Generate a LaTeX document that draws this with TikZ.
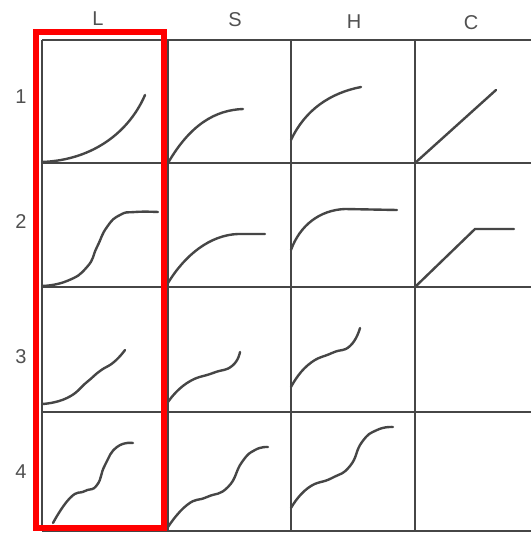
\documentclass[tikz,border=0pt]{standalone}
\usepackage{fontspec}
\setmainfont{Liberation Sans}
\usepackage{tikz}
\usetikzlibrary{positioning}

\definecolor{inkgray}{HTML}{464646}
\definecolor{labelgray}{HTML}{505050}

\begin{document}
\begin{tikzpicture}[x=1pt, y=-1pt,
  every node/.style={font=\fontsize{20}{20}\selectfont, text=labelgray},
  gridline/.style={draw=inkgray, line width=2.2pt},
  curve/.style={draw=inkgray, line width=2.4pt, line cap=round},
  frame/.style={draw=red, line width=6pt}]
  \useasboundingbox[fill=white] (0,0) rectangle (531,534);
  % column and row labels
  \foreach \c/\x/\y in {L/98/19, S/235/20, H/354/22, C/471/23}
    \node (col\c) at (\x,\y) {\c};
  \foreach \r/\y in {1/97, 2/222, 3/357, 4/472}
    \node (row\r) at (21,\y) {\r};
  % grid
  \foreach \x in {42,168,291,415}
    \draw[gridline] (\x,40) -- (\x,531);
  \foreach \y in {40,163,287,412,531}
    \draw[gridline] (42,\y) -- (531,\y);
  % row 1
  \draw[curve] (42,162) .. controls (95,160) and (130,130) .. (145,95);
  \draw[curve] (168,163) .. controls (190,125) and (215,110) .. (243,109);
  \draw[curve] (291,140) .. controls (305,110) and (330,93) .. (361,87);
  \draw[curve] (415,163) -- (496,90);
  % row 2
  \draw[curve] plot[smooth, tension=0.9] coordinates {(42,286) (67,281) (87,267) (97,247) (107,227) (120,215) (135,212) (158,212)};
  \draw[curve] (168,283) .. controls (185,255) and (210,235) .. (238,234) -- (265,234);
  \draw[curve] (291,250) .. controls (300,225) and (320,210) .. (345,209) -- (397,210);
  \draw[curve] (415,287) -- (475,229) -- (514,229);
  % row 3
  \draw[curve] plot[smooth, tension=0.9] coordinates {(42,404) (67,398) (87,382) (100,371) (114,362) (125,350)};
  \draw[curve] plot[smooth, tension=0.9] coordinates {(168,402) (187,383) (213,373) (232,366) (240,352)};
  \draw[curve] plot[smooth, tension=0.9] coordinates {(291,387) (308,365) (332,353) (350,346) (360,328)};
  % row 4
  \draw[curve] plot[smooth, tension=0.9] coordinates {(53,523) (70,498) (85,491) (97,485) (105,465) (117,447) (133,443)};
  \draw[curve] plot[smooth, tension=0.9] coordinates {(168,527) (187,505) (207,497) (228,487) (242,462) (255,450) (268,447)};
  \draw[curve] plot[smooth, tension=0.9] coordinates {(291,508) (308,488) (332,478) (350,466) (362,442) (377,430) (393,427)};
  % highlight
  \draw[frame] (35.5,32) rectangle (164,528);
\end{tikzpicture}
\end{document}
